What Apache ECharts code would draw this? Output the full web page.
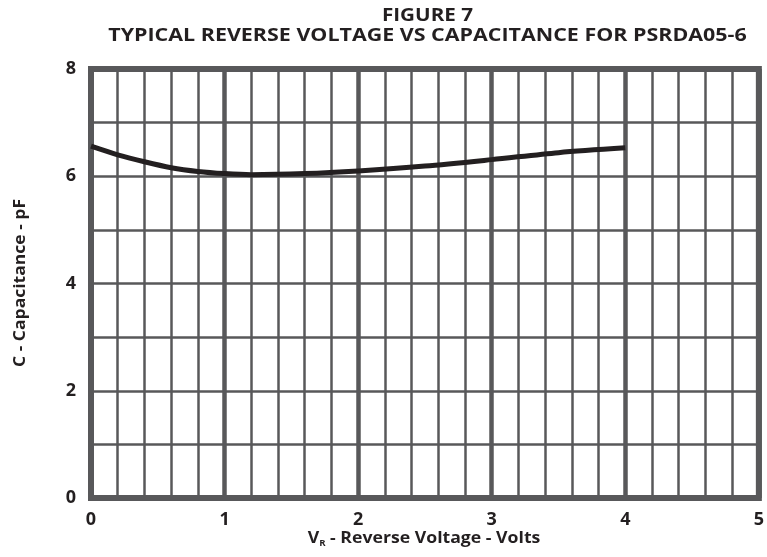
<!DOCTYPE html>
<html><head><meta charset="utf-8">
<script src="https://cdn.jsdelivr.net/npm/echarts@6/dist/echarts.min.js"></script>
<style>html,body{margin:0;padding:0;background:#fff}#c{width:767px;height:557px}</style>
</head><body><div id="c"></div>
<script>
const voltage = [0, 0.2, 0.4, 0.6, 0.8, 1.0, 1.2, 1.6, 2.0, 2.5, 3.0, 3.5, 4.0];
const capacitance = [6.56, 6.40, 6.27, 6.16, 6.09, 6.05, 6.03, 6.05, 6.10, 6.19, 6.31, 6.44, 6.53];
const xTicks = [0, 1, 2, 3, 4, 5];
const yTicks = [0, 2, 4, 6, 8];
const titleLines = ['FIGURE 7', 'TYPICAL REVERSE VOLTAGE VS CAPACITANCE FOR PSRDA05-6'];
const xName = ['V', 'R', ' - Reverse Voltage - Volts'];
const yName = 'C - Capacitance - pF';

const FONT = '"Open Sans", sans-serif';
const INK = '#231f20';
const GRID = '#58585a';
const chart = echarts.init(document.getElementById('c'), null, {renderer: 'canvas'});
chart.setOption({
  animation: false,
  graphic: [
    {type: 'text', x: 427.5, y: 16, scaleX: 1.18, z: 10,
     style: {text: titleLines[0], fontFamily: FONT, fontWeight: 'bold', fontSize: 17.5, fill: INK, align: 'center', verticalAlign: 'middle'}},
    {type: 'text', x: 427.5, y: 36, scaleX: 1.225, z: 10,
     style: {text: titleLines[1], fontFamily: FONT, fontWeight: 'bold', fontSize: 17.5, fill: INK, align: 'center', verticalAlign: 'middle'}},
    {type: 'text', x: 21, y: 283, rotation: Math.PI / 2, scaleX: 1.13, z: 10,
     style: {text: yName, fontFamily: FONT, fontWeight: 'bold', fontSize: 15.5, fill: INK, align: 'center', verticalAlign: 'middle'}},
    {type: 'text', x: 424, y: 538, scaleX: 1.07, z: 10,
     style: {text: '{v|' + xName[0] + '}{s|' + xName[1] + '}{v|' + xName[2] + '}', align: 'center', verticalAlign: 'middle',
       rich: {
         v: {fontFamily: FONT, fontWeight: 'bold', fontSize: 16.5, fill: INK, color: INK},
         s: {fontFamily: FONT, fontWeight: 'bold', fontSize: 9, fill: INK, color: INK, verticalAlign: 'bottom', padding: [10, 0, 0, 0]}
       }}}
  ],
  grid: {left: 91, right: 6, top: 69, bottom: 59, show: true, borderWidth: 6, borderColor: GRID, backgroundColor: 'transparent', z: 3},
  xAxis: [
    {type: 'value', min: 0, max: 5, interval: 0.2, position: 'bottom',
     axisLine: {show: false}, axisTick: {show: false}, axisLabel: {show: false},
     splitLine: {show: true, lineStyle: {color: GRID, width: 2.5}}},
    {type: 'value', min: 0, max: 5, interval: 1, position: 'bottom',
     axisLine: {show: false}, axisTick: {show: false},
     axisLabel: {show: true, margin: 13, fontFamily: FONT, fontWeight: 'bold', fontSize: 18, color: INK,
       formatter: v => xTicks.includes(v) ? String(v) : ''},
     splitLine: {show: true, lineStyle: {color: GRID, width: 4.5}}}
  ],
  yAxis: {type: 'value', min: 0, max: 8, interval: 1,
    axisLine: {show: false}, axisTick: {show: false},
    axisLabel: {margin: 15, fontFamily: FONT, fontWeight: 'bold', fontSize: 18, color: INK,
      formatter: v => yTicks.includes(v) ? String(v) : ''},
    splitLine: {show: true, lineStyle: {color: GRID, width: 2.5}}},
  series: [{
    type: 'line', xAxisIndex: 1, smooth: 0.3, showSymbol: false, z: 5,
    lineStyle: {color: INK, width: 5},
    data: voltage.map((v, i) => [v, capacitance[i]])
  }]
});
</script></body></html>
